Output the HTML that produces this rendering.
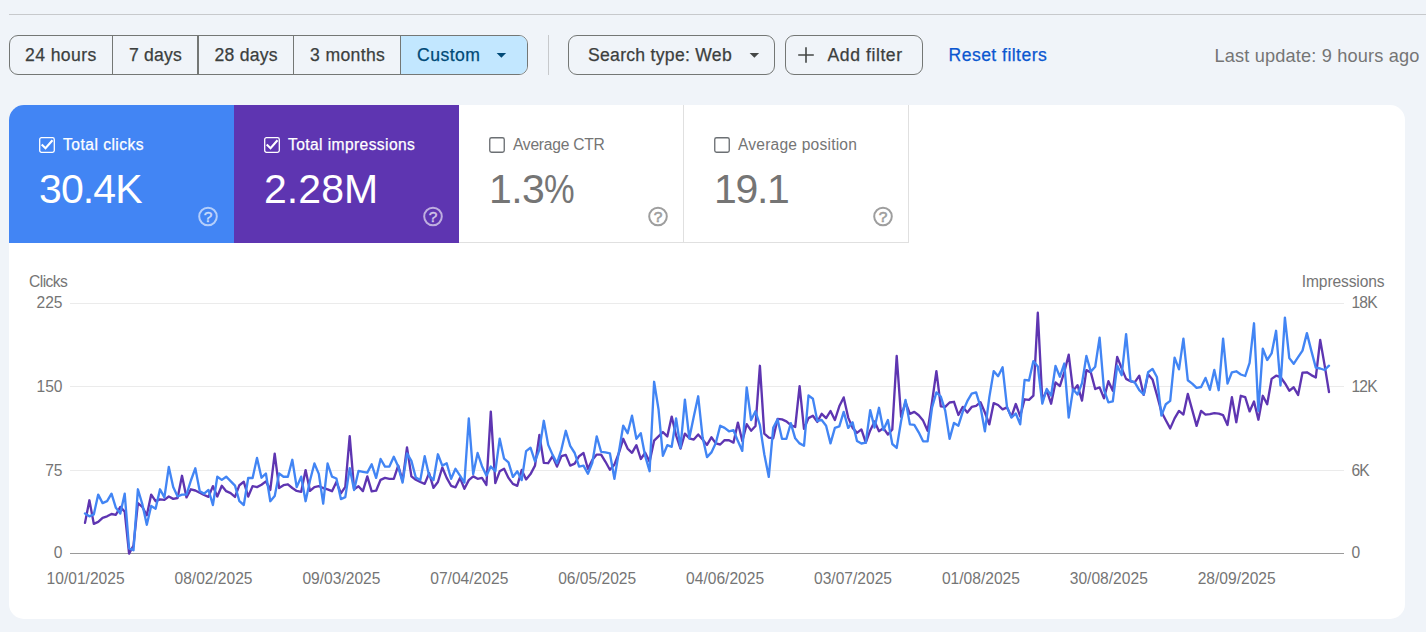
<!DOCTYPE html><html lang="en"><head><meta charset="utf-8"><title>Performance</title><style>
*{box-sizing:border-box}
html,body{margin:0;padding:0}
body{width:1426px;height:632px;overflow:hidden;position:relative;background:#f0f4f9;font-family:"Liberation Sans",sans-serif;color:#444746}
.abs{position:absolute}
.t{position:absolute;white-space:nowrap;line-height:1}
.topline{left:9px;top:14px;width:1417px;height:1px;background:#c7c9cc}
.seg{left:9px;top:35px;width:519px;height:40px;border:1px solid #747775;border-radius:9px;overflow:hidden}
.seg .sel{position:absolute;left:391px;top:0;width:127px;height:38px;background:#c2e7ff}
.seg i{position:absolute;top:0;width:1px;height:38px;background:#747775}
.btn{top:35px;height:40px;border:1px solid #747775;border-radius:9px}
.tb{font-size:17.6px;color:#3c3f3e;top:47.3px;-webkit-text-stroke:0.25px currentColor}
.vsep{left:548px;top:35px;width:1px;height:40px;background:#c7c9cc}
.card{left:9px;top:105px;width:1396px;height:513.5px;background:#fff;border-radius:15px;overflow:hidden}
.tile{position:absolute;top:0;width:225px;height:137.5px}
.tile .lab{left:54px;top:31.6px;font-size:15.6px}
.tile .num{left:30px;top:63.9px;font-size:41px}
.tile svg.cb{position:absolute;left:30px;top:32px}
.tile svg.help{position:absolute;left:187.8px;top:100px}
.w{color:#fff}
.g{color:#757575}
.ax{font-size:15.2px;color:#757575}
</style></head><body>
<div class="abs topline"></div>
<div class="abs seg"><div class="sel"></div><i style="left:102px"></i><i style="left:187px;width:2px"></i><i style="left:283px"></i><i style="left:390px"></i></div>
<span class="t tb" id="t1" style="left:25px;letter-spacing:.39px">24 hours</span>
<span class="t tb" id="t2" style="left:129px;letter-spacing:.19px">7 days</span>
<span class="t tb" id="t3" style="left:214.5px;letter-spacing:.23px">28 days</span>
<span class="t tb" id="t4" style="left:310px;letter-spacing:.36px">3 months</span>
<span class="t tb" id="t5" style="left:417px;color:#004a77;letter-spacing:.45px">Custom</span>
<svg class="abs" style="left:496px;top:52px" width="11" height="7" viewBox="0 0 11 7"><path d="M0.6 0.9 H10.1 L5.35 5.75 Z" fill="#004a77"/></svg>
<div class="abs vsep"></div>
<div class="abs btn" style="left:568px;width:207px"></div>
<span class="t tb" id="t6" style="left:588px;letter-spacing:.28px">Search type: Web</span>
<svg class="abs" style="left:749px;top:52px" width="11" height="7" viewBox="0 0 11 7"><path d="M0.6 0.9 H10.1 L5.35 5.75 Z" fill="#444746"/></svg>
<div class="abs btn" style="left:785px;width:138px"></div>
<svg class="abs" style="left:798px;top:47px" width="16" height="16" viewBox="0 0 16 16"><path d="M8 0.2 V15.8 M0.2 8 H15.8" stroke="#444746" stroke-width="1.6" fill="none"/></svg>
<span class="t tb" id="t7" style="left:827.5px;letter-spacing:.57px">Add filter</span>
<span class="t tb" id="t8" style="left:948.5px;color:#0b57d0;letter-spacing:.45px">Reset filters</span>
<span class="t" id="t9" style="left:1214.5px;top:47.2px;font-size:18.2px;color:#757575;letter-spacing:.16px">Last update: 9 hours ago</span>
<div class="abs card">
<div class="tile" style="left:0px;background:#4285f4;"><svg class="cb" width="16" height="16" viewBox="0 0 16 16"><rect x="0.7" y="0.7" width="14.6" height="14.6" rx="1.8" fill="none" stroke="#fff" stroke-width="1.3"/><path d="M2.7 7.5 L6.5 11.2 L13.5 3.2" fill="none" stroke="#fff" stroke-width="2.1"/></svg><span class="t lab w" style="letter-spacing:0.48px;-webkit-text-stroke:0.25px #fff;">Total clicks</span><span class="t num w" style="letter-spacing:-0.9px">30.4K</span><svg class="help" width="22" height="22" viewBox="0 0 22 22"><circle cx="11" cy="11.45" r="8.8" fill="none" stroke="#fff" stroke-opacity=".6" stroke-width="2"/><text x="11.0" y="16.9" text-anchor="middle" font-family="Liberation Sans, sans-serif" font-size="15.5" fill="#fff" fill-opacity=".62" stroke="#fff" stroke-opacity=".5" stroke-width=".6">?</text></svg></div>
<div class="tile" style="left:225px;background:#5e35b1;"><svg class="cb" width="16" height="16" viewBox="0 0 16 16"><rect x="0.7" y="0.7" width="14.6" height="14.6" rx="1.8" fill="none" stroke="#fff" stroke-width="1.3"/><path d="M2.7 7.5 L6.5 11.2 L13.5 3.2" fill="none" stroke="#fff" stroke-width="2.1"/></svg><span class="t lab w" style="letter-spacing:0.4px;-webkit-text-stroke:0.25px #fff;">Total impressions</span><span class="t num w" style="letter-spacing:0.05px">2.28M</span><svg class="help" width="22" height="22" viewBox="0 0 22 22"><circle cx="11" cy="11.45" r="8.8" fill="none" stroke="#fff" stroke-opacity=".6" stroke-width="2"/><text x="11.0" y="16.9" text-anchor="middle" font-family="Liberation Sans, sans-serif" font-size="15.5" fill="#fff" fill-opacity=".62" stroke="#fff" stroke-opacity=".5" stroke-width=".6">?</text></svg></div>
<div class="tile" style="left:450px;background:#fff;border-right:1px solid #e0e0e0;border-bottom:1px solid #e0e0e0;"><svg class="cb" width="16" height="16" viewBox="0 0 16 16"><rect x="0.75" y="0.75" width="14.5" height="14.5" rx="1.8" fill="#fff" stroke="#6b6f73" stroke-width="1.35"/></svg><span class="t lab g" style="letter-spacing:-0.25px;">Average CTR</span><span class="t num g" style="letter-spacing:-0.6px">1.3<span style="display:inline-block;transform:scaleX(.84);transform-origin:0 0">%</span></span><svg class="help" width="22" height="22" viewBox="0 0 22 22"><circle cx="11" cy="11.45" r="8.8" fill="none" stroke="#9e9e9e" stroke-width="2"/><text x="11.0" y="16.9" text-anchor="middle" font-family="Liberation Sans, sans-serif" font-size="15.5" fill="#9e9e9e" stroke="#9e9e9e" stroke-width=".6">?</text></svg></div>
<div class="tile" style="left:675px;background:#fff;border-right:1px solid #e0e0e0;border-bottom:1px solid #e0e0e0;"><svg class="cb" width="16" height="16" viewBox="0 0 16 16"><rect x="0.75" y="0.75" width="14.5" height="14.5" rx="1.8" fill="#fff" stroke="#6b6f73" stroke-width="1.35"/></svg><span class="t lab g" style="letter-spacing:0.2px;">Average position</span><span class="t num g" style="letter-spacing:-1.3px">19.1</span><svg class="help" width="22" height="22" viewBox="0 0 22 22"><circle cx="11" cy="11.45" r="8.8" fill="none" stroke="#9e9e9e" stroke-width="2"/><text x="11.0" y="16.9" text-anchor="middle" font-family="Liberation Sans, sans-serif" font-size="15.5" fill="#9e9e9e" stroke="#9e9e9e" stroke-width=".6">?</text></svg></div>
</div>
<svg class="abs" style="left:0;top:250px" width="1426" height="360" viewBox="0 250 1426 360" font-family="Liberation Sans, sans-serif" font-size="15.6" fill="#757575"><line x1="70" x2="1344" y1="303.5" y2="303.5" stroke="#ebebeb" stroke-width="1"/><line x1="70" x2="1344" y1="386.5" y2="386.5" stroke="#ebebeb" stroke-width="1"/><line x1="70" x2="1344" y1="470.5" y2="470.5" stroke="#ebebeb" stroke-width="1"/><line x1="70" x2="1344" y1="553.5" y2="553.5" stroke="#9a9a9a" stroke-width="1"/><text x="29" y="287" letter-spacing="-.55">Clicks</text><text x="1384.5" y="287" text-anchor="end" letter-spacing="-.12">Impressions</text><text x="62.5" y="308.0" text-anchor="end">225</text><text x="1351.6" y="308.0" letter-spacing="-0.9">18K</text><text x="62.5" y="391.7" text-anchor="end">150</text><text x="1351.6" y="391.7" letter-spacing="-0.9">12K</text><text x="62.5" y="475.7" text-anchor="end">75</text><text x="1351.6" y="475.7" letter-spacing="-0.9">6K</text><text x="62.5" y="558.0" text-anchor="end">0</text><text x="1351.6" y="558.0" letter-spacing="0">0</text><text x="85.6" y="584" text-anchor="middle" letter-spacing="0">10/01/2025</text><text x="213.5" y="584" text-anchor="middle" letter-spacing="0">08/02/2025</text><text x="341.4" y="584" text-anchor="middle" letter-spacing="0">09/03/2025</text><text x="469.3" y="584" text-anchor="middle" letter-spacing="0">07/04/2025</text><text x="597.2" y="584" text-anchor="middle" letter-spacing="0">06/05/2025</text><text x="725.1" y="584" text-anchor="middle" letter-spacing="0">04/06/2025</text><text x="853.0" y="584" text-anchor="middle" letter-spacing="0">03/07/2025</text><text x="980.9" y="584" text-anchor="middle" letter-spacing="0">01/08/2025</text><text x="1108.8" y="584" text-anchor="middle" letter-spacing="0">30/08/2025</text><text x="1236.7" y="584" text-anchor="middle" letter-spacing="0">28/09/2025</text><polyline points="85.0,522.9 89.4,500.3 93.8,523.8 98.2,521.9 102.6,517.8 107.1,516.3 111.5,514.0 115.9,514.8 120.3,506.9 124.7,511.6 129.1,553.6 133.5,545.5 137.9,503.1 142.3,506.9 146.8,515.3 151.2,494.6 155.6,501.2 160.0,499.3 164.4,499.9 168.8,496.5 173.2,498.9 177.6,498.0 182.0,475.8 186.5,497.4 190.9,489.3 195.3,490.5 199.7,492.7 204.1,495.0 208.5,496.9 212.9,486.1 217.3,496.5 221.8,485.8 226.2,491.2 230.6,493.1 235.0,496.9 239.4,485.2 243.8,481.8 248.2,496.5 252.6,486.1 257.0,487.1 261.5,484.8 265.9,481.4 270.3,489.9 274.7,453.6 279.1,488.0 283.5,485.2 287.9,484.3 292.3,488.0 296.7,490.9 301.2,491.8 305.6,470.1 310.0,490.9 314.4,487.1 318.8,486.1 323.2,488.0 327.6,489.3 332.0,491.2 336.4,482.0 340.9,493.3 345.3,486.9 349.7,436.1 354.1,489.2 358.5,486.3 362.9,491.1 367.3,476.4 371.7,491.4 376.1,490.7 380.6,479.8 385.0,477.9 389.4,478.8 393.8,478.8 398.2,465.6 402.6,480.7 407.0,447.4 411.4,476.4 415.8,479.8 420.3,482.0 424.7,483.9 429.1,473.2 433.5,487.8 437.9,482.0 442.3,467.5 446.7,477.9 451.1,485.8 455.5,487.3 460.0,477.9 464.4,488.8 468.8,480.1 473.2,476.4 477.6,478.8 482.0,477.9 486.4,485.0 490.8,411.6 495.3,483.1 499.7,471.3 504.1,468.8 508.5,477.9 512.9,483.9 517.3,485.8 521.7,470.0 526.1,479.4 530.5,474.1 535.0,465.6 539.4,434.9 543.8,462.8 548.2,463.2 552.6,456.2 557.0,466.6 561.4,456.2 565.8,454.9 570.2,465.6 574.7,463.7 579.1,456.2 583.5,453.0 587.9,468.8 592.3,460.0 596.7,454.6 601.1,454.6 605.5,461.8 609.9,469.7 614.4,464.6 618.8,453.3 623.2,438.8 627.6,448.6 632.0,452.8 636.4,445.2 640.8,459.0 645.2,452.8 649.6,461.8 654.1,440.7 658.5,436.4 662.9,432.1 667.3,436.4 671.7,416.6 676.1,435.5 680.5,448.6 684.9,433.6 689.3,438.3 693.8,439.6 698.2,434.5 702.6,439.6 707.0,444.9 711.4,437.3 715.8,443.4 720.2,444.5 724.6,440.2 729.0,440.2 733.5,442.6 737.9,422.6 742.3,441.1 746.7,424.2 751.1,430.7 755.5,426.0 759.9,365.8 764.3,433.6 768.8,437.7 773.2,438.3 777.6,418.9 782.0,419.4 786.4,421.3 790.8,425.1 795.2,427.0 799.6,386.1 804.0,428.9 808.5,418.1 812.9,415.7 817.3,421.9 821.7,413.8 826.1,418.1 830.5,411.0 834.9,420.0 839.3,406.3 843.7,397.4 848.2,417.6 852.6,427.9 857.0,432.9 861.4,429.4 865.8,442.6 870.2,430.4 874.6,421.4 879.0,431.3 883.4,428.1 887.9,434.5 892.3,429.5 896.7,356.0 901.1,416.8 905.5,402.2 909.9,413.8 914.3,411.9 918.7,415.3 923.1,420.6 927.6,430.8 932.0,402.2 936.4,371.1 940.8,406.3 945.2,406.9 949.6,402.5 954.0,401.8 958.4,415.0 962.8,406.9 967.3,412.5 971.7,406.9 976.1,405.9 980.5,402.2 984.9,412.5 989.3,424.4 993.7,403.1 998.1,405.0 1002.6,409.3 1007.0,407.4 1011.4,416.8 1015.8,404.0 1020.2,416.3 1024.6,399.3 1029.0,399.9 1033.4,395.6 1037.8,312.7 1042.3,400.3 1046.7,390.5 1051.1,403.7 1055.5,382.4 1059.9,386.1 1064.3,372.0 1068.7,354.7 1073.1,390.9 1077.5,385.2 1082.0,400.6 1086.4,370.1 1090.8,372.4 1095.2,389.0 1099.6,387.4 1104.0,398.3 1108.4,381.2 1112.8,390.8 1117.2,356.9 1121.7,368.4 1126.1,378.9 1130.5,381.3 1134.9,382.1 1139.3,375.7 1143.7,394.9 1148.1,374.2 1152.5,379.4 1156.9,394.9 1161.4,411.8 1165.8,420.3 1170.2,428.4 1174.6,418.4 1179.0,410.9 1183.4,414.6 1187.8,393.9 1192.2,409.9 1196.6,425.9 1201.1,410.9 1205.5,414.6 1209.9,414.1 1214.3,413.1 1218.7,413.7 1223.1,415.2 1227.5,425.0 1231.9,397.1 1236.3,422.2 1240.8,395.8 1245.2,397.1 1249.6,411.4 1254.0,401.5 1258.4,419.7 1262.8,395.8 1267.2,404.3 1271.6,378.9 1276.1,375.7 1280.5,377.0 1284.9,383.2 1289.3,390.7 1293.7,387.3 1298.1,394.9 1302.5,372.6 1306.9,372.3 1311.3,375.1 1315.8,377.5 1320.2,339.9 1324.6,365.1 1329.0,392.0" fill="none" stroke="#5e35b1" stroke-width="2.35" stroke-linejoin="round" stroke-linecap="round"/><polyline points="85.0,513.5 89.4,516.3 93.8,514.4 98.2,494.6 102.6,503.1 107.1,501.2 111.5,493.7 115.9,507.8 120.3,513.5 124.7,493.7 129.1,548.3 133.5,550.2 137.9,489.3 142.3,504.0 146.8,524.8 151.2,505.9 155.6,508.7 160.0,489.3 164.4,497.4 168.8,466.9 173.2,487.1 177.6,496.5 182.0,494.6 186.5,494.6 190.9,480.5 195.3,468.3 199.7,490.9 204.1,493.7 208.5,489.9 212.9,505.0 217.3,476.7 221.8,479.9 226.2,476.7 230.6,481.1 235.0,485.6 239.4,501.2 243.8,505.0 248.2,478.0 252.6,478.0 257.0,457.9 261.5,477.7 265.9,473.5 270.3,501.2 274.7,496.1 279.1,473.5 283.5,476.7 287.9,476.7 292.3,459.8 296.7,487.1 301.2,476.7 305.6,501.2 310.0,480.5 314.4,463.5 318.8,473.9 323.2,503.7 327.6,463.5 332.0,476.7 336.4,478.5 340.9,499.1 345.3,497.1 349.7,468.1 354.1,490.1 358.5,470.9 362.9,471.8 367.3,472.6 371.7,464.3 376.1,477.9 380.6,459.0 385.0,466.6 389.4,466.6 393.8,456.8 398.2,466.6 402.6,482.6 407.0,453.4 411.4,460.9 415.8,477.5 420.3,480.1 424.7,456.2 429.1,475.6 433.5,480.1 437.9,454.3 442.3,465.6 446.7,463.2 451.1,478.8 455.5,468.8 460.0,475.6 464.4,482.6 468.8,418.5 473.2,474.1 477.6,453.0 482.0,466.2 486.4,475.6 490.8,466.6 495.3,471.3 499.7,438.7 504.1,458.7 508.5,462.4 512.9,476.9 517.3,471.3 521.7,480.1 526.1,451.1 530.5,447.7 535.0,461.3 539.4,449.6 543.8,420.8 548.2,444.9 552.6,454.9 557.0,463.2 561.4,449.6 565.8,430.8 570.2,445.9 574.7,453.0 579.1,466.6 583.5,465.6 587.9,473.7 592.3,462.8 596.7,436.4 601.1,451.8 605.5,452.4 609.9,453.3 614.4,478.8 618.8,452.4 623.2,425.7 627.6,433.2 632.0,415.7 636.4,438.8 640.8,433.2 645.2,456.2 649.6,471.2 654.1,381.8 658.5,409.1 662.9,455.8 667.3,445.2 671.7,446.8 676.1,418.5 680.5,447.7 684.9,399.7 689.3,438.3 693.8,416.6 698.2,396.3 702.6,437.3 707.0,457.1 711.4,452.4 715.8,443.0 720.2,425.7 724.6,427.9 729.0,431.3 733.5,430.2 737.9,441.1 742.3,450.9 746.7,387.4 751.1,420.0 755.5,411.3 759.9,425.1 764.3,454.3 768.8,476.9 773.2,427.9 777.6,419.4 782.0,438.8 786.4,438.8 790.8,423.2 795.2,438.3 799.6,443.4 804.0,445.8 808.5,395.5 812.9,398.7 817.3,420.8 821.7,420.0 826.1,425.7 830.5,443.4 834.9,427.9 839.3,426.4 843.7,411.9 848.2,427.9 852.6,422.3 857.0,440.9 861.4,443.5 865.8,442.6 870.2,410.1 874.6,427.6 879.0,407.8 883.4,430.0 887.9,420.0 892.3,444.0 896.7,447.9 901.1,421.0 905.5,399.9 909.9,424.4 914.3,424.8 918.7,432.3 923.1,441.3 927.6,441.3 932.0,407.8 936.4,392.4 940.8,396.5 945.2,410.6 949.6,438.9 954.0,422.9 958.4,425.7 962.8,411.6 967.3,401.2 971.7,393.7 976.1,392.4 980.5,406.9 984.9,431.3 989.3,397.4 993.7,371.1 998.1,376.2 1002.6,367.3 1007.0,406.9 1011.4,417.6 1015.8,413.5 1020.2,424.4 1024.6,379.9 1029.0,380.5 1033.4,361.1 1037.8,366.4 1042.3,403.7 1046.7,389.0 1051.1,395.6 1055.5,366.0 1059.9,376.7 1064.3,363.5 1068.7,417.6 1073.1,389.3 1077.5,394.6 1082.0,383.3 1086.4,356.0 1090.8,371.6 1095.2,366.7 1099.6,337.6 1104.0,389.8 1108.4,402.3 1112.8,401.3 1117.2,365.6 1121.7,375.2 1126.1,334.2 1130.5,380.7 1134.9,382.6 1139.3,390.2 1143.7,394.5 1148.1,372.3 1152.5,368.9 1156.9,377.0 1161.4,415.6 1165.8,404.3 1170.2,400.9 1174.6,357.6 1179.0,369.4 1183.4,338.7 1187.8,380.2 1192.2,383.6 1196.6,387.9 1201.1,387.0 1205.5,377.9 1209.9,389.8 1214.3,370.0 1218.7,390.2 1223.1,338.7 1227.5,383.6 1231.9,372.3 1236.3,371.3 1240.8,374.5 1245.2,376.0 1249.6,362.9 1254.0,323.3 1258.4,410.9 1262.8,348.7 1267.2,360.0 1271.6,353.4 1276.1,330.8 1280.5,385.5 1284.9,317.7 1289.3,358.1 1293.7,363.8 1298.1,357.2 1302.5,350.6 1306.9,333.1 1311.3,350.6 1315.8,367.6 1320.2,368.5 1324.6,370.0 1329.0,365.7" fill="none" stroke="#4285f4" stroke-width="2.35" stroke-linejoin="round" stroke-linecap="round"/></svg>
</body></html>
